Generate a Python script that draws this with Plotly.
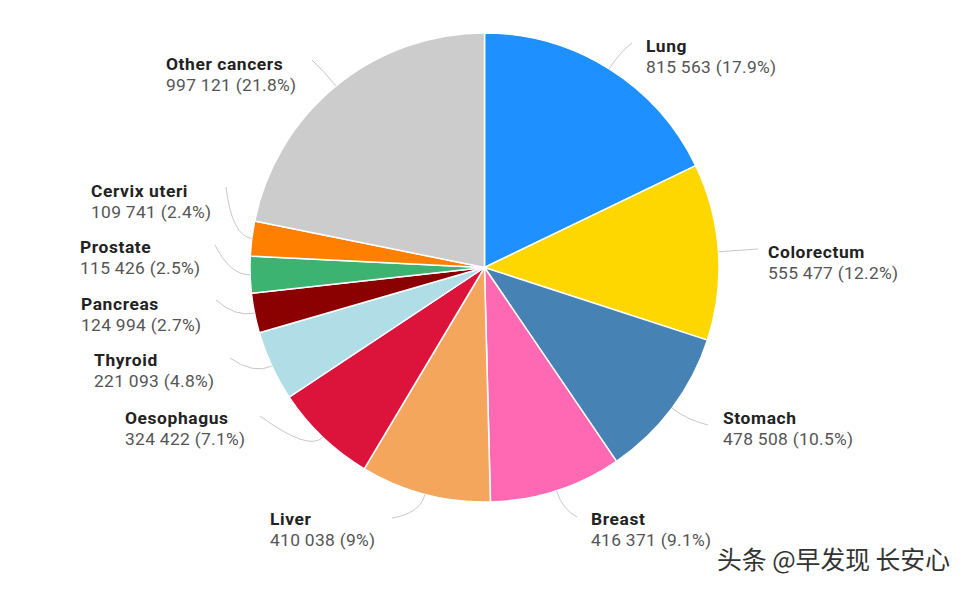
import math
import plotly.graph_objects as go

W, H = 967, 589
categories = ["Lung", "Colorectum", "Stomach", "Breast", "Liver", "Oesophagus", "Thyroid",
              "Pancreas", "Prostate", "Cervix uteri", "Other cancers"]
values = [815563, 555477, 478508, 416371, 410038, 324422, 221093, 124994, 115426, 109741, 997121]
value_labels = ["815 563 (17.9%)", "555 477 (12.2%)", "478 508 (10.5%)", "416 371 (9.1%)", "410 038 (9%)",
                "324 422 (7.1%)", "221 093 (4.8%)", "124 994 (2.7%)", "115 426 (2.5%)", "109 741 (2.4%)",
                "997 121 (21.8%)"]
colors = ["#1E90FF", "#FFD700", "#4682B4", "#FF69B4", "#F4A65C", "#DC143C", "#B0DDE6",
          "#8B0000", "#3CB371", "#FF7F00", "#CCCCCC"]
label_x = [646, 768, 723, 591, 270, 125, 94, 81, 80, 91, 166]
label_y = [46, 252, 418, 519, 519, 418, 361, 304, 247, 191, 65]
leader_end = [(632, 43), (758, 249), (708, 425), (577, 517), (392, 518), (260, 416),
              (230, 358), (216, 300), (215, 245), (226, 187), (312, 60)]

cx, cy, r = 484.5, 267.5, 234.5

fig = go.Figure(go.Pie(
    labels=categories, values=values, sort=False, direction="clockwise", rotation=0,
    marker=dict(colors=colors, line=dict(color="white", width=1.5)),
    textinfo="none", hoverinfo="label+value+percent",
    domain=dict(x=[(cx - r) / W, (cx + r) / W], y=[1 - (cy + r) / H, 1 - (cy - r) / H]),
    showlegend=False,
))

FONT = "Roboto, sans-serif"
annotations = []
for name, vlab, x, y in zip(categories, value_labels, label_x, label_y):
    text = (f'<span style="font-size:17.4px;color:#222222;letter-spacing:0.6px"><b>{name}</b></span><br>'
            f'<span style="font-size:17.4px;color:#555555;letter-spacing:0.3px">{vlab}</span>')
    annotations.append(dict(x=x / W, y=1 - (y + 10) / H, xref="paper", yref="paper", text=text,
                            showarrow=False, xanchor="left", yanchor="middle", align="left", xshift=-2,
                            font=dict(family=FONT, size=15.8, color="#555555")))
annotations.append(dict(x=717 / W, y=1 - 558 / H, xref="paper", yref="paper", text="头条 @早发现 长安心",
                        showarrow=False, xanchor="left", yanchor="middle", xshift=-2,
                        font=dict(family="Noto Sans CJK SC", size=24.8, color="#333333")))

# Leader lines: start on the rim at each slice's mid-angle, bend, end beside the label
shapes = []
total = sum(values)
cum = 0
for v, (ex, ey) in zip(values, leader_end):
    a = 2 * math.pi * (cum + v / 2) / total
    cum += v
    sx, sy = cx + r * math.sin(a), cy - r * math.cos(a)
    mx, my = cx + (r + 20) * math.sin(a), cy - (r + 20) * math.cos(a)
    shapes.append(dict(type="path", xref="paper", yref="paper",
                       path=f"M {sx/W} {1-sy/H} Q {mx/W} {1-my/H} {ex/W} {1-ey/H}",
                       line=dict(color="#C8C8C8", width=1)))

fig.update_layout(width=W, height=H, margin=dict(l=0, r=0, t=0, b=0), paper_bgcolor="white",
                  annotations=annotations, shapes=shapes)
fig.write_html("out.html", config=dict(displayModeBar=False),
               post_script="document.body.style.margin='0';")
